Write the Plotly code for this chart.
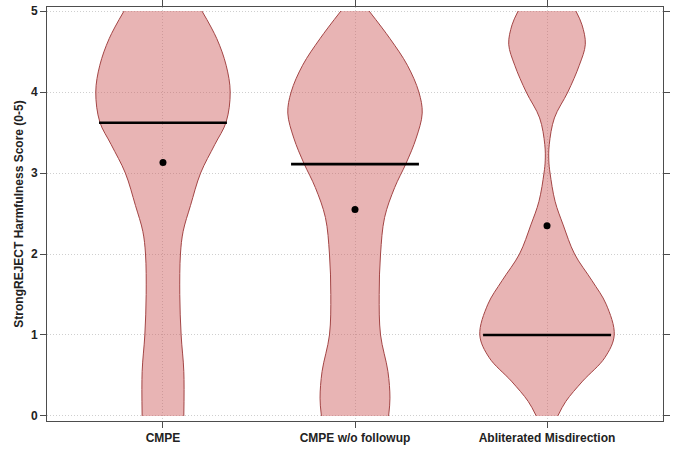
import plotly.graph_objects as go

categories = ["CMPE", "CMPE w/o followup", "Abliterated Misdirection"]

# Violin density profiles (score level -> relative width, max = 1)
cmpe_levels = [0, 0.55, 1.0, 1.5, 2.0, 2.28, 2.6, 3.0, 3.35, 3.63, 4.0, 4.33, 4.66, 5.0]
cmpe_width = [0.31, 0.31, 0.27, 0.25, 0.26, 0.30, 0.41, 0.56, 0.77, 0.94, 1.0, 0.94, 0.80, 0.58]

nofu_levels = [0, 0.22, 0.55, 1.0, 1.5, 2.0, 2.45, 2.82, 3.12, 3.43, 3.74, 4.0, 4.33, 4.66, 5.0]
nofu_width = [0.50, 0.52, 0.49, 0.38, 0.36, 0.38, 0.44, 0.59, 0.76, 0.91, 1.0, 0.95, 0.78, 0.52, 0.21]

abl_levels = [0, 0.18, 0.43, 0.72, 1.0, 1.38, 1.67, 2.0, 2.36, 2.65, 3.0, 3.15, 3.35, 3.68, 4.0, 4.33, 4.59, 4.83, 5.0]
abl_width = [0.16, 0.28, 0.53, 0.86, 1.0, 0.88, 0.67, 0.41, 0.24, 0.12, 0.045, 0.027, 0.033, 0.11, 0.31, 0.48, 0.57, 0.52, 0.43]

medians = [3.62, 3.11, 1.0]
means = [3.13, 2.55, 2.35]

profiles = [(cmpe_levels, cmpe_width), (nofu_levels, nofu_width), (abl_levels, abl_width)]

HALF = 0.35       # max half width in x units
MED_HALF = 0.333  # half length of median bar
FILL = "rgba(205,92,92,0.46)"
EDGE = "#A34545"
FONT = "Liberation Sans, Arial, sans-serif"

fig = go.Figure()

for i, (lv, wd) in enumerate(profiles):
    for side in (1, -1):
        # centre line (invisible) then one edge filled towards it
        fig.add_trace(go.Scatter(
            x=[i] * len(lv), y=lv, mode="lines",
            line=dict(width=0, color="rgba(0,0,0,0)"),
            hoverinfo="skip", showlegend=False))
        fig.add_trace(go.Scatter(
            x=[i + side * HALF * w for w in wd], y=lv, mode="lines",
            fill="tonextx", fillcolor=FILL,
            line=dict(color=EDGE, width=1, shape="spline", smoothing=1.0),
            hoverinfo="skip", showlegend=False))

for i, m in enumerate(medians):
    fig.add_trace(go.Scatter(
        x=[i - MED_HALF, i + MED_HALF], y=[m, m], mode="lines",
        line=dict(color="black", width=2.6), hoverinfo="skip", showlegend=False))

fig.add_trace(go.Scatter(
    x=list(range(len(categories))), y=means, mode="markers",
    marker=dict(color="black", size=7), showlegend=False))

axis_common = dict(
    showline=True, linecolor="#4d4d4d", linewidth=1, mirror="ticks",
    ticks="outside", ticklen=6, tickcolor="#4d4d4d", tickwidth=1,
    showgrid=True, gridcolor="#cfcfcf", griddash="1px,2px", gridwidth=1,
    zeroline=False, automargin=False,
    tickfont=dict(family=FONT, size=12, color="#222222", weight="bold"),
)

fig.update_xaxes(
    range=[-0.604, 2.604], tickmode="array", tickvals=[0, 1, 2], ticktext=categories,
    **axis_common)
fig.update_yaxes(
    range=[-0.062, 5.05], tickmode="array", tickvals=[0, 1, 2, 3, 4, 5],
    ticktext=["0", "1", "2", "3", "4", "5"],
    title=dict(text="StrongREJECT Harmfulness Score (0-5)",
               font=dict(family=FONT, size=12, color="#222222", weight="bold"),
               standoff=4),
    **axis_common)

fig.update_layout(
    width=678, height=451,
    margin=dict(l=47, r=15, t=7, b=30),
    plot_bgcolor="white", paper_bgcolor="white",
    showlegend=False,
)

fig.write_html("out.html", config={"displayModeBar": False},
               post_script="document.body.style.margin='0';")
